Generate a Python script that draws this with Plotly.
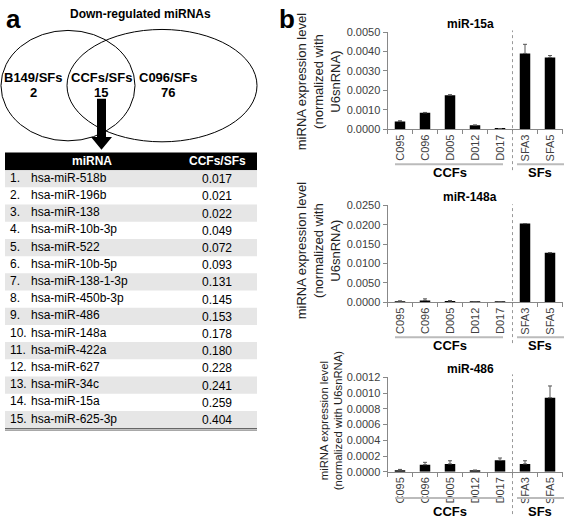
import plotly.graph_objects as go

W, H = 567, 524
FONT = "Liberation Sans, Arial, sans-serif"

# ---------------- data ----------------
categories = ["C095", "C096", "D005", "D012", "D017", "SFA3", "SFA5"]
groups = ["CCFs", "SFs"]

mir15a = [0.00039, 0.00084, 0.00175, 0.00020, 0.00003, 0.00390, 0.00369]
mir15a_err = [0.00004, 0.00002, 0.00002, 0.00001, 0.0, 0.00047, 0.00010]

mir148a = [0.0001, 0.0005, 0.00035, 0.0001, 0.0001, 0.0203, 0.0128]
mir148a_err = [0.0003, 0.0004, 0.0001, 0.0, 0.0, 0.0, 0.0]

mir486 = [0.00002, 0.00009, 0.00010, 0.00002, 0.000145, 0.00010, 0.00094]
mir486_err = [0.00001, 0.00003, 0.00004, 0.0, 0.00003, 0.00004, 0.00015]

chart_titles = ["miR-15a", "miR-148a", "miR-486"]
y_max = [0.005, 0.025, 0.0012]
y_dtick = [0.001, 0.005, 0.0002]

venn_sets = ["B149/SFs", "CCFs/SFs", "C096/SFs"]
venn_counts = [2, 15, 76]

table_header = ["miRNA", "CCFs/SFs"]
mirnas = ["hsa-miR-518b", "hsa-miR-196b", "hsa-miR-138", "hsa-miR-10b-3p",
          "hsa-miR-522", "hsa-miR-10b-5p", "hsa-miR-138-1-3p", "hsa-miR-450b-3p",
          "hsa-miR-486", "hsa-miR-148a", "hsa-miR-422a", "hsa-miR-627",
          "hsa-miR-34c", "hsa-miR-15a", "hsa-miR-625-3p"]
ratios = ["0.017", "0.021", "0.022", "0.049", "0.072", "0.093", "0.131",
          "0.145", "0.153", "0.178", "0.180", "0.228", "0.241", "0.259", "0.404"]


def px(x):
    return x / W


def py(y):
    return 1 - y / H


fig = go.Figure()
shapes = []
annotations = []

# ---------------- panel a ----------------
annotations.append(dict(x=px(4), y=py(13), text="<b>a</b>", xanchor="left", yanchor="middle",
                        font=dict(size=26, color="black", family=FONT)))
annotations.append(dict(x=px(140), y=py(8), text="<b>Down-regulated miRNAs</b>",
                        xanchor="center", yanchor="middle",
                        font=dict(size=12, color="black", family=FONT)))

shapes.append(dict(type="circle", xref="paper", yref="paper",
                   x0=px(1), x1=px(135), y0=py(138), y1=py(25),
                   line=dict(color="black", width=1)))
shapes.append(dict(type="circle", xref="paper", yref="paper",
                   x0=px(67), x1=px(257), y0=py(139), y1=py(24),
                   line=dict(color="black", width=1)))

venn_x = [33, 101, 168]
for i, (name, cnt) in enumerate(zip(venn_sets, venn_counts)):
    annotations.append(dict(x=px(venn_x[i]), y=py(73), text="<b>%s</b>" % name,
                            xanchor="center", yanchor="middle",
                            font=dict(size=13, color="black", family=FONT)))
    annotations.append(dict(x=px(venn_x[i]), y=py(89), text="<b>%d</b>" % cnt,
                            xanchor="center", yanchor="middle",
                            font=dict(size=13, color="black", family=FONT)))

# arrow
arrow_pts = [(97, 95), (106, 95), (106, 134), (112, 134), (101.5, 147), (91, 134), (97, 134)]
path = "M " + " L ".join("%f,%f" % (px(a), py(b)) for a, b in arrow_pts) + " Z"
shapes.append(dict(type="path", xref="paper", yref="paper", path=path,
                   fillcolor="black", line=dict(color="black", width=0)))

# table
tx0, tx1 = 5, 257
head_top, head_bot = 150, 168
row_h = 17.6
shapes.append(dict(type="rect", xref="paper", yref="paper",
                   x0=px(tx0), x1=px(tx1), y0=py(head_bot), y1=py(head_top),
                   fillcolor="black", line=dict(width=0)))
annotations.append(dict(x=px(92), y=py(158.5), text="<b>%s</b>" % table_header[0],
                        xanchor="center", yanchor="middle",
                        font=dict(size=12, color="white", family=FONT)))
annotations.append(dict(x=px(217), y=py(158.5), text="<b>%s</b>" % table_header[1],
                        xanchor="center", yanchor="middle",
                        font=dict(size=12, color="white", family=FONT)))

for i, (name, val) in enumerate(zip(mirnas, ratios)):
    top = head_bot + row_h * i
    if i % 2 == 0:
        shapes.append(dict(type="rect", xref="paper", yref="paper",
                           x0=px(tx0), x1=px(tx1), y0=py(top + row_h), y1=py(top),
                           fillcolor="#e6e6e6", line=dict(width=0)))
    cy = top + row_h / 2
    annotations.append(dict(x=px(8), y=py(cy - 1), text="%d." % (i + 1),
                            xanchor="left", yanchor="middle",
                            font=dict(size=12, color="black", family=FONT)))
    annotations.append(dict(x=px(28.5), y=py(cy - 1), text=name,
                            xanchor="left", yanchor="middle",
                            font=dict(size=12, color="black", family=FONT)))
    annotations.append(dict(x=px(217), y=py(cy + 0.5), text=val,
                            xanchor="center", yanchor="middle",
                            font=dict(size=12, color="black", family=FONT)))

tbl_bot = head_bot + row_h * len(mirnas)
shapes.append(dict(type="line", xref="paper", yref="paper",
                   x0=px(tx0), x1=px(tx1), y0=py(tbl_bot + 0.5), y1=py(tbl_bot + 0.5),
                   line=dict(color="#666666", width=1.2)))
shapes.append(dict(type="line", xref="paper", yref="paper",
                   x0=px(tx0), x1=px(tx1), y0=py(tbl_bot + 2.3), y1=py(tbl_bot + 2.3),
                   line=dict(color="#a8a8a8", width=1.5)))

# ---------------- panel b ----------------
annotations.append(dict(x=px(277), y=py(13), text="<b>b</b>", xanchor="left", yanchor="middle",
                        font=dict(size=26, color="black", family=FONT)))

values = [mir15a, mir148a, mir486]
errors = [mir15a_err, mir148a_err, mir486_err]

# pixel layout for each chart: (axis-top y, axis-bottom y)
y_pix = [(26.7, 126.0), (204.0, 303.3), (380.0, 476.7)]
x_dom = [px(387.5), px(562.5)]
title_y = [18, 195, 372]
ytitle = [("miRNA expression level<br>(normalized with<br>U6snRNA)", 318, 78, 13),
          ("miRNA expression level<br>(normalized with<br>U6snRNA)", 318, 251, 13),
          ("miRNA expression level<br>(normalized with U6snRNA)", 331, 424, 11.3)]
sep_span = [(25, 168), (203, 345), (377, 520)]
underline_y = [162, 339, 503.5]
group_label_y = [170, 347, 517]

for k in range(3):
    sfx = "" if k == 0 else str(k + 1)
    fig.add_trace(go.Bar(
        x=categories, y=values[k], xaxis="x" + sfx, yaxis="y" + sfx,
        marker=dict(color="black", line=dict(width=0)),
        error_y=dict(type="data", symmetric=False, array=errors[k],
                     arrayminus=[0] * len(errors[k]),
                     color="#555555", thickness=1, width=2),
        showlegend=False, hoverinfo="skip"))
    top, bot = y_pix[k]
    fig.layout["xaxis" + sfx] = dict(
        domain=x_dom, anchor="y" + sfx, type="category",
        range=[-0.5, len(categories) - 0.5],
        showline=True, linecolor="#888888", linewidth=1,
        ticks="outside", ticklen=4, tickcolor="#888888", tickson="boundaries",
        tickangle=-90, tickfont=dict(size=11, color="#404040", family=FONT),
        showgrid=False, zeroline=False, fixedrange=True)
    fig.layout["yaxis" + sfx] = dict(
        domain=[py(bot), py(top)], anchor="x" + sfx,
        range=[0, y_max[k]], dtick=y_dtick[k], tick0=0, tickformat=".4f",
        showline=True, linecolor="#888888", linewidth=1,
        ticks="outside", ticklen=4, tickcolor="#888888",
        tickfont=dict(size=11, color="#404040", family=FONT),
        showgrid=False, zeroline=False, fixedrange=True)

    annotations.append(dict(x=px(470), y=py(title_y[k]), text="<b>%s</b>" % chart_titles[k],
                            xanchor="center", yanchor="middle",
                            font=dict(size=12, color="black", family=FONT)))
    txt, tx, ty, fs = ytitle[k]
    annotations.append(dict(x=px(tx), y=py(ty), text=txt, textangle=-90,
                            xanchor="center", yanchor="middle", align="center",
                            font=dict(size=fs, color="#222222", family=FONT)))
    # dotted separator between groups
    s0, s1 = sep_span[k]
    shapes.append(dict(type="line", xref="x" + sfx, yref="paper",
                       x0=4.5, x1=4.5, y0=py(s1), y1=py(s0),
                       line=dict(color="#999999", width=1, dash="dot")))
    # group underlines & labels
    uy = underline_y[k]
    shapes.append(dict(type="line", xref="paper", yref="paper",
                       x0=px(395), x1=px(503), y0=py(uy), y1=py(uy),
                       line=dict(color="#bbbbbb", width=2)))
    shapes.append(dict(type="line", xref="paper", yref="paper",
                       x0=px(517), x1=px(564), y0=py(uy), y1=py(uy),
                       line=dict(color="#bbbbbb", width=2)))
    annotations.append(dict(x=px(450), y=py(group_label_y[k]), text="<b>%s</b>" % groups[0],
                            xanchor="center", yanchor="middle",
                            font=dict(size=13, color="black", family=FONT)))
    annotations.append(dict(x=px(540), y=py(group_label_y[k]), text="<b>%s</b>" % groups[1],
                            xanchor="center", yanchor="middle",
                            font=dict(size=13, color="black", family=FONT)))

for a in annotations:
    a.setdefault("xref", "paper")
    a.setdefault("yref", "paper")
    a.setdefault("showarrow", False)

fig.update_layout(
    width=W, height=H, margin=dict(l=0, r=0, t=0, b=0),
    paper_bgcolor="white", plot_bgcolor="white",
    bargap=0.58, shapes=shapes, annotations=annotations,
    font=dict(family=FONT),
)

fig.write_html("out.html", config={"displayModeBar": False},
               post_script="document.body.style.margin='0';document.body.style.overflow='hidden';")
